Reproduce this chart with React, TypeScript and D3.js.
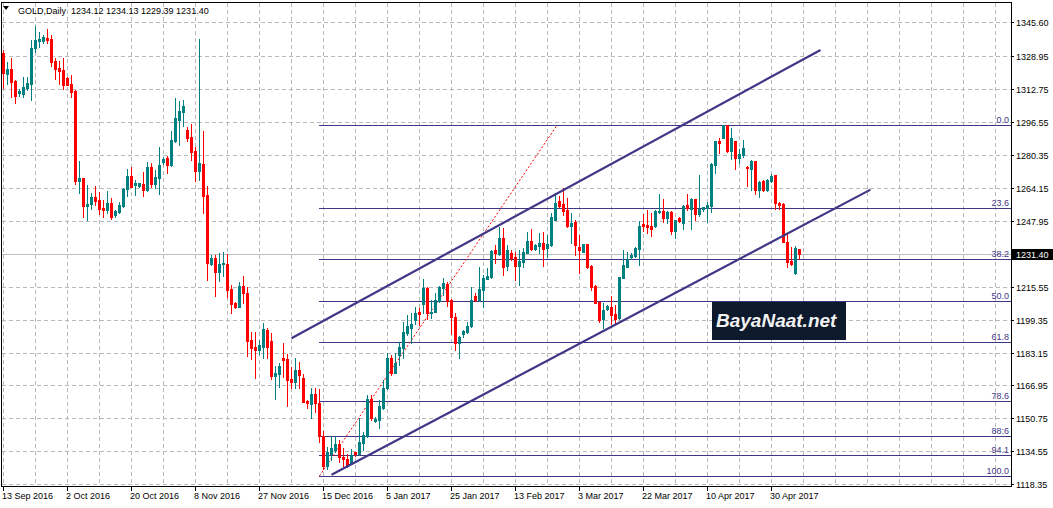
import React from "react";
import * as d3 from "d3";

const W = 1053;
const H = 508;

// Daily GOLD bars (6 bars per week, Sunday bars included), 13 Sep 2016 .. early May 2017
const opens = [
  1330.3, 1320.1, 1322.6, 1316.7, 1310.6, 1310.3, 1313.3, 1315.2, 1333.0, 1336.4,
  1336.6, 1337.9, 1337.4, 1326.7, 1323.3, 1322.1, 1318.2, 1315.2, 1312.0, 1267.5,
  1269.0, 1255.4, 1256.4, 1259.7, 1258.2, 1254.3, 1253.3, 1256.7, 1250.8, 1252.5,
  1255.4, 1263.4, 1270.0, 1265.4, 1265.2, 1266.1, 1263.3, 1274.4, 1265.9, 1269.2,
  1277.0, 1279.0, 1275.4, 1287.0, 1297.5, 1301.3, 1292.6, 1289.3, 1282.3, 1272.6,
  1275.9, 1260.7, 1226.9, 1229.5, 1222.9, 1226.6, 1226.7, 1214.4, 1207.7, 1205.7,
  1215.9, 1212.6, 1189.3, 1186.1, 1184.4, 1186.1, 1194.3, 1188.9, 1171.8, 1172.8,
  1180.3, 1180.0, 1170.2, 1168.9, 1174.6, 1170.5, 1159.2, 1157.9, 1162.8, 1158.2,
  1142.3, 1127.5, 1133.3, 1135.2, 1138.2, 1132.0, 1130.8, 1128.7, 1134.1, 1133.3,
  1138.5, 1142.1, 1160.3, 1149.7, 1150.0, 1155.7, 1165.6, 1180.3, 1173.3, 1182.0,
  1185.2, 1192.6, 1195.1, 1199.2, 1203.3, 1207.0, 1215.1, 1202.5, 1203.3, 1208.7,
  1215.1, 1216.7, 1209.0, 1200.8, 1188.0, 1192.1, 1193.1, 1196.2, 1211.1, 1209.0,
  1213.9, 1219.3, 1220.2, 1233.6, 1231.6, 1239.3, 1225.7, 1232.0, 1230.0, 1225.7,
  1227.9, 1232.0, 1238.2, 1234.1, 1235.6, 1237.2, 1234.4, 1236.1, 1248.4, 1257.7,
  1256.1, 1253.3, 1245.6, 1247.4, 1235.2, 1232.8, 1236.6, 1225.7, 1216.1, 1208.2,
  1199.5, 1204.6, 1205.7, 1202.1, 1200.0, 1219.7, 1225.4, 1230.0, 1230.7, 1234.1,
  1246.2, 1245.9, 1245.4, 1245.4, 1252.5, 1252.9, 1249.5, 1252.5, 1243.1, 1249.2,
  1247.1, 1255.7, 1253.6, 1258.5, 1251.1, 1253.6, 1254.4, 1255.2, 1275.4, 1287.2,
  1288.9, 1295.1, 1282.5, 1287.2, 1278.7, 1280.3, 1274.6, 1273.4, 1277.5, 1263.1,
  1267.7, 1263.1, 1267.7, 1270.5, 1256.9, 1256.2, 1237.7, 1228.4, 1222.1, 1234.12,
];
const highs = [
  1332.0, 1326.2, 1328.2, 1317.2, 1312.6, 1318.5, 1318.8, 1336.9, 1343.8, 1340.8,
  1339.2, 1342.3, 1339.3, 1328.2, 1326.4, 1328.2, 1318.5, 1319.5, 1312.3, 1277.4,
  1269.0, 1265.7, 1261.6, 1265.1, 1262.1, 1258.2, 1262.4, 1259.3, 1253.3, 1257.4,
  1263.9, 1273.4, 1274.4, 1268.0, 1266.7, 1272.0, 1276.9, 1276.2, 1273.0, 1284.4,
  1279.5, 1279.7, 1292.1, 1308.3, 1306.9, 1307.4, 1294.3, 1295.5, 1284.4, 1337.4,
  1292.1, 1265.1, 1231.2, 1231.2, 1232.0, 1232.8, 1231.6, 1216.4, 1208.2, 1218.0,
  1220.8, 1215.2, 1193.3, 1193.3, 1189.3, 1197.9, 1195.1, 1192.6, 1176.7, 1177.9,
  1187.7, 1182.5, 1176.2, 1180.3, 1178.4, 1172.5, 1159.8, 1165.6, 1165.6, 1165.2,
  1144.8, 1136.6, 1142.1, 1142.1, 1140.2, 1136.1, 1133.3, 1135.6, 1134.4, 1150.8,
  1144.2, 1162.3, 1162.3, 1151.6, 1159.8, 1169.7, 1182.8, 1182.0, 1182.8, 1188.5,
  1198.3, 1201.6, 1202.4, 1205.7, 1204.9, 1219.3, 1215.6, 1209.0, 1212.3, 1215.9,
  1219.7, 1218.0, 1209.5, 1202.8, 1191.3, 1194.3, 1198.4, 1215.2, 1212.6, 1225.1,
  1221.3, 1224.6, 1233.6, 1236.1, 1244.7, 1244.3, 1236.0, 1233.6, 1232.8, 1233.6,
  1234.4, 1242.6, 1243.8, 1236.6, 1241.8, 1242.6, 1241.0, 1251.6, 1261.8, 1260.2,
  1263.9, 1259.0, 1251.6, 1248.4, 1241.0, 1236.6, 1236.6, 1226.2, 1216.4, 1208.2,
  1207.7, 1206.6, 1211.0, 1206.6, 1220.5, 1233.6, 1232.8, 1231.9, 1235.2, 1248.0,
  1251.3, 1253.3, 1252.0, 1253.3, 1261.1, 1258.5, 1252.8, 1252.8, 1248.4, 1249.7,
  1255.7, 1261.0, 1259.0, 1258.5, 1270.5, 1254.9, 1257.1, 1276.2, 1287.2, 1288.9,
  1295.1, 1295.1, 1293.4, 1287.2, 1283.1, 1287.7, 1274.9, 1277.9, 1277.5, 1267.5,
  1268.0, 1268.4, 1271.0, 1270.5, 1257.4, 1256.6, 1241.5, 1235.2, 1235.6, 1234.13,
];
const lows = [
  1313.1, 1315.2, 1309.0, 1306.1, 1309.3, 1308.7, 1312.3, 1307.4, 1330.8, 1333.6,
  1335.6, 1335.6, 1324.1, 1317.7, 1315.2, 1312.8, 1314.7, 1308.8, 1265.9, 1261.6,
  1249.7, 1248.3, 1253.6, 1255.7, 1251.3, 1249.7, 1251.6, 1248.7, 1249.7, 1251.6,
  1254.9, 1260.3, 1264.4, 1260.7, 1264.8, 1260.3, 1262.8, 1264.8, 1264.3, 1261.3,
  1275.9, 1271.3, 1275.1, 1286.6, 1285.2, 1294.6, 1287.4, 1277.9, 1267.5, 1268.0,
  1252.0, 1218.8, 1226.2, 1211.0, 1218.4, 1220.8, 1210.7, 1202.8, 1205.2, 1205.4,
  1207.4, 1181.5, 1180.2, 1170.8, 1182.3, 1180.3, 1180.6, 1170.2, 1160.3, 1166.4,
  1171.3, 1157.0, 1165.6, 1165.6, 1165.6, 1158.7, 1156.1, 1151.1, 1154.1, 1139.0,
  1125.7, 1125.7, 1130.3, 1134.1, 1129.2, 1127.5, 1127.0, 1128.2, 1132.5, 1132.8,
  1135.2, 1141.8, 1150.0, 1149.2, 1145.9, 1155.2, 1165.1, 1172.1, 1172.9, 1177.0,
  1180.3, 1191.8, 1187.7, 1197.2, 1196.7, 1202.5, 1199.5, 1200.0, 1203.0, 1208.2,
  1211.5, 1206.0, 1192.3, 1184.4, 1180.3, 1191.0, 1192.6, 1195.9, 1208.7, 1208.7,
  1205.7, 1219.2, 1219.7, 1227.4, 1231.1, 1221.3, 1223.8, 1228.7, 1218.9, 1216.4,
  1225.4, 1232.0, 1233.6, 1233.6, 1232.0, 1225.7, 1230.3, 1235.6, 1248.4, 1254.9,
  1250.8, 1245.1, 1236.9, 1231.1, 1222.1, 1232.5, 1224.6, 1213.9, 1207.4, 1198.0,
  1195.1, 1204.1, 1197.0, 1197.5, 1199.5, 1219.7, 1225.4, 1229.0, 1230.3, 1226.2,
  1243.1, 1241.8, 1240.5, 1245.1, 1252.0, 1247.5, 1246.7, 1241.5, 1239.3, 1247.2,
  1243.9, 1253.3, 1243.8, 1248.4, 1250.3, 1252.9, 1247.5, 1252.5, 1271.6, 1281.5,
  1288.5, 1282.0, 1278.2, 1273.4, 1276.2, 1279.5, 1265.1, 1263.1, 1261.2, 1259.8,
  1262.8, 1262.8, 1267.2, 1253.8, 1253.6, 1237.4, 1225.4, 1226.2, 1221.8, 1229.39,
];
const closes = [
  1320.8, 1322.6, 1316.4, 1309.5, 1311.6, 1313.8, 1315.7, 1333.0, 1336.9, 1337.4,
  1338.2, 1336.9, 1326.2, 1322.6, 1321.6, 1314.7, 1314.9, 1311.5, 1267.5, 1269.0,
  1255.2, 1256.4, 1259.7, 1257.7, 1253.9, 1253.3, 1256.7, 1250.0, 1252.8, 1255.6,
  1263.6, 1270.0, 1264.8, 1266.7, 1266.4, 1263.3, 1274.4, 1266.2, 1269.5, 1275.4,
  1278.4, 1275.4, 1287.7, 1298.5, 1302.1, 1304.6, 1288.7, 1282.0, 1272.6, 1276.2,
  1260.3, 1227.0, 1229.5, 1222.9, 1226.6, 1227.0, 1213.9, 1207.0, 1205.7, 1215.9,
  1212.6, 1189.0, 1185.6, 1184.4, 1186.9, 1194.8, 1186.1, 1171.8, 1173.3, 1176.7,
  1179.5, 1169.7, 1168.9, 1174.6, 1172.1, 1159.0, 1158.2, 1162.8, 1158.2, 1142.3,
  1127.5, 1134.1, 1136.1, 1138.2, 1131.6, 1130.8, 1127.5, 1132.8, 1133.1, 1139.0,
  1142.6, 1160.1, 1151.1, 1150.3, 1156.9, 1165.6, 1180.3, 1173.3, 1178.2, 1186.0,
  1193.1, 1196.2, 1197.2, 1202.8, 1202.1, 1214.7, 1202.5, 1203.3, 1209.0, 1215.6,
  1217.5, 1208.7, 1200.8, 1188.0, 1191.0, 1193.8, 1196.4, 1209.0, 1209.0, 1214.4,
  1220.0, 1220.8, 1233.3, 1232.0, 1239.3, 1225.4, 1233.6, 1229.5, 1225.7, 1228.4,
  1232.8, 1238.2, 1233.9, 1236.1, 1237.2, 1234.1, 1236.6, 1249.7, 1256.9, 1255.4,
  1252.9, 1245.6, 1247.0, 1236.1, 1233.6, 1236.6, 1225.4, 1215.6, 1207.7, 1199.2,
  1204.1, 1206.2, 1201.6, 1199.7, 1220.2, 1226.2, 1229.0, 1231.1, 1234.7, 1245.6,
  1245.4, 1245.1, 1243.9, 1252.9, 1253.0, 1249.2, 1252.5, 1243.1, 1248.4, 1248.0,
  1255.2, 1254.4, 1258.5, 1251.2, 1253.9, 1254.6, 1255.7, 1275.9, 1287.2, 1286.4,
  1295.1, 1282.5, 1288.9, 1278.7, 1280.8, 1283.6, 1273.8, 1277.5, 1263.1, 1267.2,
  1263.1, 1268.0, 1270.0, 1256.6, 1255.7, 1237.7, 1227.9, 1226.7, 1234.7, 1231.40,
];

// Axis labels
const priceGrid = [1345.6, 1328.95, 1312.75, 1296.55, 1280.35, 1264.15, 1247.95, 1231.75, 1215.55, 1199.35, 1183.15, 1166.95, 1150.75, 1134.55, 1118.35];
const priceLabels = ["1345.60", "1328.95", "1312.75", "1296.55", "1280.35", "1264.15", "1247.95", "", "1215.55", "1199.35", "1183.15", "1166.95", "1150.75", "1134.55", "1118.35"];
const dateLabels = ["13 Sep 2016", "2 Oct 2016", "20 Oct 2016", "8 Nov 2016", "27 Nov 2016", "15 Dec 2016", "5 Jan 2017", "25 Jan 2017", "13 Feb 2017", "3 Mar 2017", "22 Mar 2017", "10 Apr 2017", "30 Apr 2017"];
const barsPerLabel = 16;
const barsPerGrid = 8;

// Fibonacci retracement (bar index, price)
const fibStart = { bar: 79, price: 1122.5 };
const fibEnd = { bar: 138.4, price: 1295.0 };
const fibLevels = [0, 23.6, 38.2, 50, 61.8, 78.6, 88.6, 94.1, 100];
const fibLabels = ["0.0", "23.6", "38.2", "50.0", "61.8", "78.6", "88:6", "94.1", "100.0"];

// Channel trend lines (bar index, price)
const upperChannel = [{ bar: 72, price: 1190.2 }, { bar: 204.25, price: 1332.0 }];
const lowerChannel = [{ bar: 82, price: 1123.0 }, { bar: 216.75, price: 1263.3 }];

const bidPrice = 1231.4;
const title = "GOLD,Daily  1234.12 1234.13 1229.39 1231.40";

const FONT = "Tahoma, 'Liberation Sans', Arial, sans-serif";
const FIB = "#3f3786";

export default function App() {
  const plotRight = 1011;
  const plotBottom = 486.5;
  const x = d3.scaleLinear().domain([0, 252]).range([3, plotRight]);
  const y = d3.scaleLinear().domain([1118.35, 1345.6]).range([484.3, 22.3]);
  const px = (i: number) => Math.round(x(i));
  const py = (p: number) => Math.round(y(p));

  const gridBars = d3.range(0, 252, barsPerGrid);
  const line = d3.line<{ bar: number; price: number }>().x((d) => x(d.bar) + 0.5).y((d) => y(d.price));
  const fibRange = fibEnd.price - fibStart.price;

  return (
    <svg width={W} height={H} style={{ display: "block", position: "absolute", left: 0, top: 0, background: "#fff" }} fontFamily={FONT}>
      <rect x={0} y={0} width={W} height={H} fill="#fff" />
      {/* grid */}
      <g stroke="#b9b9b9" strokeWidth={1} strokeDasharray="4,3" shapeRendering="crispEdges">
        {gridBars.map((b) => (
          <line key={"v" + b} x1={px(b) + 0.5} x2={px(b) + 0.5} y1={3} y2={plotBottom} />
        ))}
        {priceGrid.map((p) => (
          <line key={"h" + p} x1={2} x2={plotRight} y1={py(p) + 0.5} y2={py(p) + 0.5} />
        ))}
      </g>
      {/* bid line */}
      <line x1={2} x2={plotRight} y1={py(bidPrice) + 0.5} y2={py(bidPrice) + 0.5} stroke="#c0c0c0" strokeWidth={1} shapeRendering="crispEdges" />
      {/* fibonacci */}
      <g shapeRendering="crispEdges">
        {fibLevels.map((lv, k) => {
          const p = fibEnd.price - (lv / 100) * fibRange;
          const yy = py(p) + 0.5;
          return (
            <g key={"f" + lv}>
              <line x1={px(fibStart.bar)} x2={plotRight} y1={yy} y2={yy} stroke={FIB} strokeWidth={1} />
              <text x={1009} y={yy - 2.5} fontSize={9} fill={FIB} textAnchor="end">{fibLabels[k]}</text>
            </g>
          );
        })}
      </g>
      <path d={line([fibStart, fibEnd]) || ""} stroke="#ff0000" strokeWidth={1} strokeDasharray="2,2" fill="none" />
      {/* candles */}
      <g shapeRendering="crispEdges">
        {opens.map((o, i) => {
          const c = closes[i];
          const hi = highs[i];
          const lo = lows[i];
          const col = c >= o ? "#008080" : "#ff0000";
          const xx = px(i);
          const yh = py(hi);
          const yl = py(lo);
          const bt = py(Math.max(o, c));
          const bb = py(Math.min(o, c));
          return (
            <g key={"c" + i} fill={col}>
              <rect x={xx} y={yh} width={1} height={Math.max(1, yl - yh + 1)} />
              <rect x={xx - 1} y={bt} width={3} height={Math.max(1, bb - bt + 1)} />
            </g>
          );
        })}
      </g>
      {/* channel */}
      <path d={line(upperChannel) || ""} stroke={FIB} strokeWidth={2.2} fill="none" />
      <path d={line(lowerChannel) || ""} stroke={FIB} strokeWidth={2.2} fill="none" />
      {/* frame */}
      <g stroke="#000" strokeWidth={1} shapeRendering="crispEdges">
        <line x1={1.5} x2={1.5} y1={2} y2={plotBottom} />
        <line x1={1.5} x2={plotRight + 0.5} y1={2.5} y2={2.5} />
        <line x1={plotRight + 0.5} x2={plotRight + 0.5} y1={2} y2={plotBottom} />
        <line x1={1.5} x2={plotRight + 0.5} y1={plotBottom} y2={plotBottom} />
      </g>
      {/* price axis */}
      <g fontSize={9} fill="#000">
        {priceGrid.map((p, k) => (
          <g key={"pl" + p}>
            <line x1={plotRight} x2={plotRight + 3} y1={py(p) + 0.5} y2={py(p) + 0.5} stroke="#000" shapeRendering="crispEdges" />
            {priceLabels[k] && (
              <text x={plotRight + 5} y={py(p) + 3.5}>{priceLabels[k]}</text>
            )}
          </g>
        ))}
      </g>
      <rect x={plotRight + 1} y={py(bidPrice) - 5} width={W - plotRight - 1} height={11} fill="#000" />
      <text x={plotRight + 5} y={py(bidPrice) + 4} fontSize={9} fill="#fff">1231.40</text>
      {/* time axis */}
      <g fontSize={9} fill="#000">
        {dateLabels.map((d, k) => {
          const xx = px(k * barsPerLabel) + 0.5;
          return (
            <g key={d}>
              <line x1={xx} x2={xx} y1={plotBottom} y2={plotBottom + 4} stroke="#000" shapeRendering="crispEdges" />
              <text x={xx - 1.5} y={499}>{d}</text>
            </g>
          );
        })}
      </g>
      {/* title */}
      <path d="M3,6 L9,6 L6,10 Z" fill="#000" />
      <text x={18} y={13.5} fontSize={9} fill="#000" style={{ whiteSpace: "pre" }}>{title}</text>
      {/* logo */}
      <rect x={712} y={302} width={134} height={38} fill="#0d1a2b" />
      <text x={716} y={327} fontSize={19} fontWeight="bold" fontStyle="italic" fill="#f2f2f2" fontFamily="'Liberation Sans', Arial, sans-serif">BayaNaat.net</text>
    </svg>
  );
}
